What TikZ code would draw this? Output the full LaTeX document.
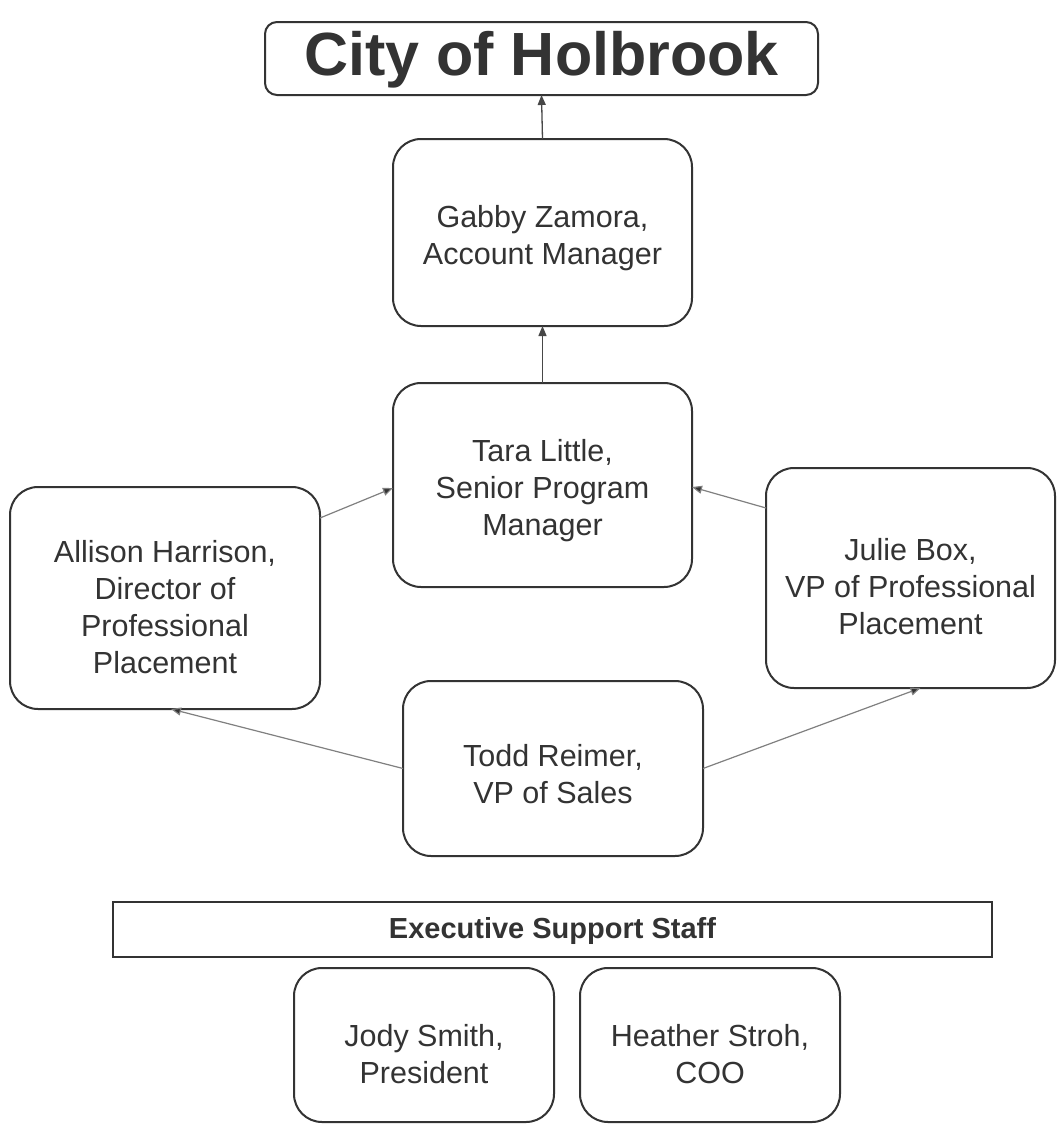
\documentclass[tikz,border=0pt]{standalone}
\usepackage{fontspec}
\setmainfont{Liberation Sans}
\usetikzlibrary{arrows.meta}
\definecolor{ink}{HTML}{333333}
\definecolor{lgray}{HTML}{808080}
\begin{document}
\begin{tikzpicture}[x=1pt,y=-1pt,
  box/.style={draw=ink, line width=2pt, rounded corners=28pt, inner sep=0pt, outer sep=0pt},
  txt/.style={text=ink, align=center, inner sep=0pt, font=\fontsize{30.5}{37}\selectfont},
  arr/.style={draw=ink!90, line width=1.3pt, -{Triangle[length=10pt,width=8pt]}},
  arrg/.style={draw=lgray, line width=1.2pt, -{Triangle[length=10pt,width=8pt,fill=ink]}}]
\useasboundingbox[fill=white] (0,0) rectangle (1058,1127);
% boxes
\node[box, rounded corners=12pt, minimum width=553pt, minimum height=73pt] (title) at (541.5,58.5) {};
\node[box, minimum width=299pt, minimum height=187pt] (gabby) at (542.5,232.5) {};
\node[box, minimum width=299pt, minimum height=204pt] (tara) at (542.5,485) {};
\node[box, minimum width=310pt, minimum height=222pt] (allison) at (165,598) {};
\node[box, minimum width=289pt, minimum height=220pt] (julie) at (910.5,578) {};
\node[box, minimum width=300pt, minimum height=175pt] (todd) at (553,768.5) {};
\node[box, rounded corners=0pt, minimum width=879pt, minimum height=55pt] (exec) at (552.5,929.5) {};
\node[box, minimum width=260pt, minimum height=154pt] (jody) at (424,1045) {};
\node[box, minimum width=260pt, minimum height=154pt] (heather) at (710,1045) {};
% texts
\node[txt, font=\fontsize{61}{70}\selectfont\bfseries] (titlet) at (541.5,60) {City of Holbrook};
\node[txt] (gabbyt) at (542.5,238) {Gabby Zamora,\\Account Manager};
\node[txt] (tarat) at (542.5,491) {Tara Little,\\Senior Program\\Manager};
\node[txt] (allisont) at (165,607) {Allison Harrison,\\Director of\\Professional\\Placement};
\node[txt] (juliet) at (910.5,587) {Julie Box,\\VP of Professional\\Placement};
\node[txt] (toddt) at (553,774) {Todd Reimer,\\VP of Sales};
\node[txt, font=\fontsize{29}{37}\selectfont\bfseries] (exect) at (552.5,931) {Executive Support Staff};
\node[txt] (jodyt) at (424,1054) {Jody Smith,\\President};
\node[txt] (heathert) at (710,1054) {Heather Stroh,\\COO};
% connectors
\draw[arr] (gabby.north) -- (title.south);
\draw[arr] (tara.north) -- (gabby.south);
\draw[arrg] ([yshift=80pt]allison.east) -- ([yshift=-3pt]tara.west);
\draw[arrg] ([yshift=70pt]julie.west) -- ([yshift=-2pt]tara.east);
\draw[arrg] (todd.west) -- ([xshift=6pt]allison.south);
\draw[arrg] (todd.east) -- ([xshift=10pt]julie.south);
\end{tikzpicture}
\end{document}
